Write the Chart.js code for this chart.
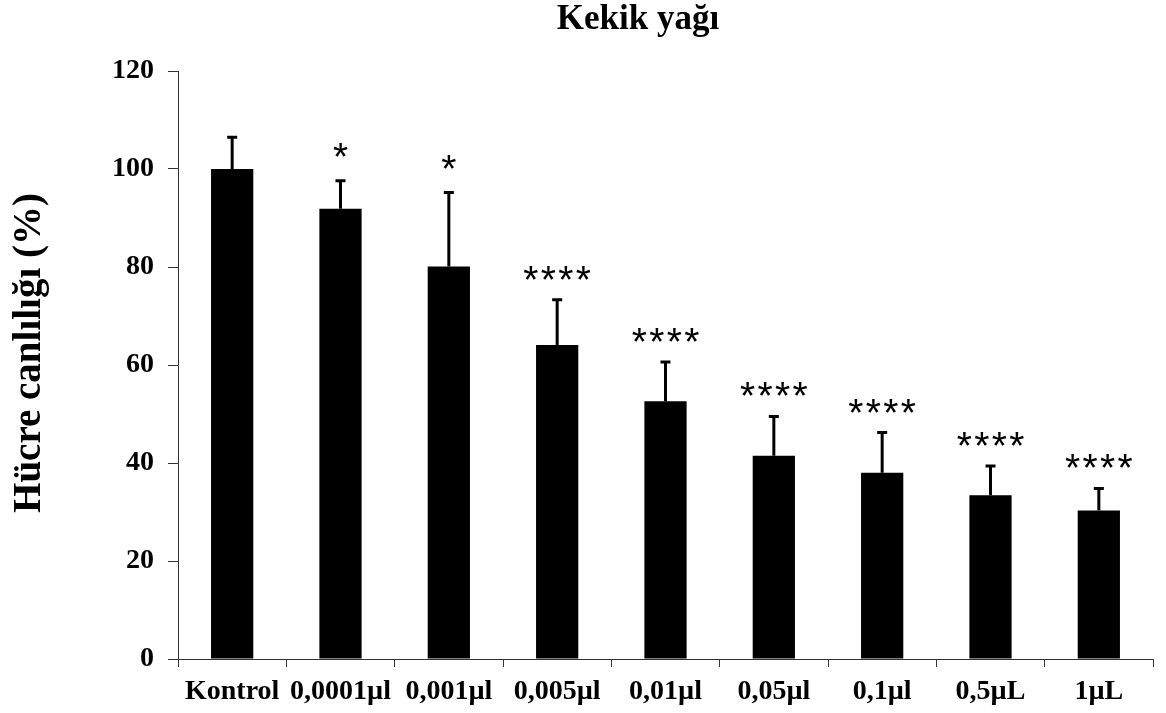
<!DOCTYPE html>
<html lang="tr">
<head>
<meta charset="UTF-8">
<title>Kekik yağı</title>
<style>
    body { margin: 0; background: #fff; }
    .chart-box { width: 1166px; height: 713px; }
</style>
</head>
<body>
<div class="chart-box"><canvas id="kekikChart"></canvas></div>

<script src="https://cdn.jsdelivr.net/npm/chart.js"></script>
<script>
    // values
    const doses = ['Kontrol', '0,0001µl', '0,001µl', '0,005µl', '0,01µl', '0,05µl', '0,1µl', '0,5µL', '1µL'];
    const viability = [100, 91.9, 80.1, 64.1, 52.6, 41.5, 38.0, 33.4, 30.3];
    const errors = [6.5, 5.7, 15.1, 9.2, 8.0, 8.0, 8.2, 6.0, 4.5];
    const signif = ['', '*', '*', '****', '****', '****', '****', '****', '****'];
    const yTicks = [0, 20, 40, 60, 80, 100, 120];

    const serif = '"Liberation Serif", "Times New Roman", serif';

    // error bars + significance stars
    const errorBars = {
        id: 'errorBars',
        afterDatasetsDraw(chart) {
            const ctx = chart.ctx;
            const y = chart.scales.y;
            const meta = chart.getDatasetMeta(0);
            ctx.save();
            ctx.strokeStyle = '#000';
            ctx.fillStyle = '#000';
            meta.data.forEach((bar, i) => {
                const top = y.getPixelForValue(viability[i] + errors[i]);
                ctx.lineWidth = 3;
                ctx.beginPath();
                ctx.moveTo(bar.x, bar.y);
                ctx.lineTo(bar.x, top);
                ctx.moveTo(bar.x - 5, top);
                ctx.lineTo(bar.x + 5, top);
                ctx.stroke();

                const stars = signif[i];
                if (stars) {
                    ctx.font = '39px "Liberation Sans", Arial, sans-serif';
                    ctx.textAlign = 'center';
                    ctx.textBaseline = 'alphabetic';
                    const step = 17.5;
                    const gap = stars.length === 1 ? 34 : 30;
                    const start = bar.x - (stars.length - 1) * step / 2;
                    for (let k = 0; k < stars.length; k++) {
                        ctx.fillText('*', start + k * step, top - gap + 23);
                    }
                }
            });
            ctx.restore();
        }
    };

    // chart title and y axis title
    const titles = {
        id: 'titles',
        afterDraw(chart) {
            const ctx = chart.ctx;
            ctx.save();
            ctx.fillStyle = '#000';
            ctx.textAlign = 'center';
            ctx.textBaseline = 'alphabetic';
            ctx.font = 'bold 35px ' + serif;
            ctx.fillText('Kekik yağı', 638, 29);

            ctx.translate(40, 353);
            ctx.rotate(-Math.PI / 2);
            ctx.font = 'bold 39px ' + serif;
            ctx.fillText('Hücre canlılığı (%)', 0, 0);
            ctx.restore();
        }
    };

    new Chart(document.getElementById('kekikChart'), {
        type: 'bar',
        data: {
            labels: doses,
            datasets: [{
                data: viability,
                backgroundColor: '#000',
                borderWidth: 0,
                categoryPercentage: 1,
                barPercentage: 0.39
            }]
        },
        options: {
            responsive: true,
            maintainAspectRatio: false,
            animation: false,
            layout: { padding: { top: 71, right: 13, bottom: 0, left: 0 } },
            plugins: {
                legend: { display: false },
                tooltip: { enabled: false }
            },
            scales: {
                x: {
                    afterFit(scale) { scale.height = 54; },
                    border: { color: '#333', width: 1 },
                    grid: { display: true, offset: true, drawOnChartArea: false, drawTicks: true, tickLength: 8, color: '#333' },
                    ticks: {
                        color: '#000',
                        font: { family: serif, size: 28, weight: 'bold' },
                        padding: 8,
                        autoSkip: false,
                        maxRotation: 0
                    }
                },
                y: {
                    min: 0,
                    max: 120,
                    afterFit(scale) { scale.width = 178; },
                    afterBuildTicks(scale) { scale.ticks = yTicks.map(v => ({ value: v })); },
                    border: { color: '#333', width: 1 },
                    grid: { drawOnChartArea: false, drawTicks: true, tickLength: 10, color: '#333' },
                    ticks: {
                        color: '#000',
                        font: { family: serif, size: 28, weight: 'bold' },
                        padding: 14
                    }
                }
            }
        },
        plugins: [errorBars, titles]
    });
</script>
</body>
</html>
